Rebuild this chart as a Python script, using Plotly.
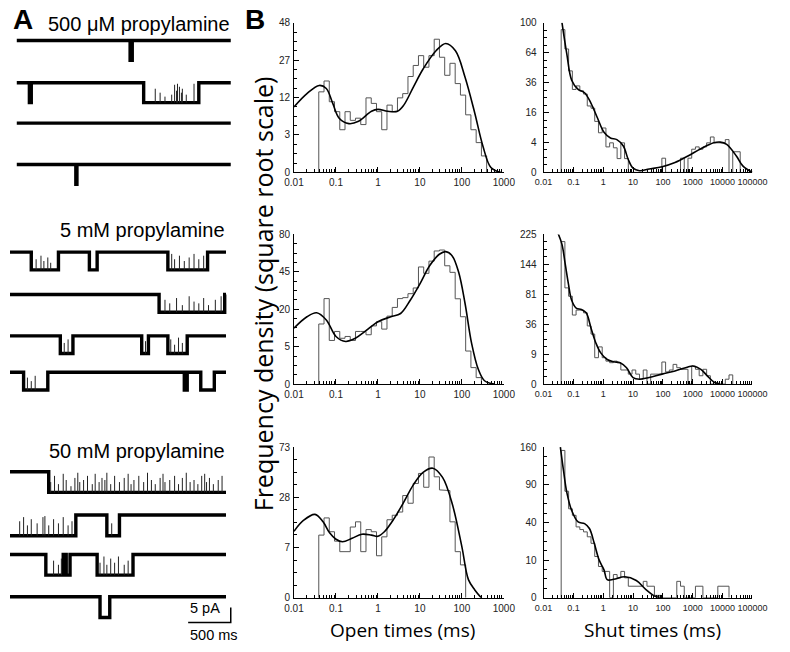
import numpy as np
import plotly.graph_objects as go

W, H = 790, 652

# ---------------- Panel A data (time in ms, current in pA) ----------------
CONDITION_LABELS = ["500 μM propylamine", "5 mM propylamine", "50 mM propylamine"]
SWEEP_START_MS = [0, -80, -80]
SWEEP_END_MS = [2511, 2455, 2455]
OPENING_AMPLITUDE_PA = [6.7, 6.0, 7.0]
SCALE_BAR_MS = 500
SCALE_BAR_PA = 5

OPENINGS_500UM = [
    [(1330, 1355)],
    [(148, 170), (1489, 2136)],
    [],
    [(693, 706)],
]
CLOSURES_500UM = [
    [],
    [(1625, .7), (1682, .5), (1739, .3), (1818, .4), (1852, .9), (1875, .6), (1886, .95),
     (1909, .8), (1932, .5), (1943, .7), (1989, .4), (2080, .95)],
    [],
    [],
]
OPENINGS_5MM = [
    [(170, 489), (852, 943), (1773, 2239)],
    [(1670, 2440)],
    [(511, 659), (1466, 1545), (1773, 2000)],
    [(80, 364), (1966, 2000), (2159, 2318)],
]
CLOSURES_5MM = [
    [(227, .6), (284, .8), (318, .5), (364, .7), (398, .4), (1818, .9), (1852, .6), (1909, .8),
     (1966, .5), (2023, .7), (2080, .9), (2136, .6), (2193, .8)],
    [(1739, .7), (1795, .5), (1875, .8), (1943, .4), (2023, .9), (2080, .6), (2136, .5),
     (2193, .8), (2250, .4), (2330, .7), (2398, .9)],
    [(557, .6), (602, .8), (1511, .7), (1807, .8), (1852, .5), (1898, .9), (1943, .6)],
    [(125, .7), (170, .5), (216, .8)],
]
OPENINGS_50MM = [
    [(375, 2455)],
    [(-80, 693), (1057, 1205)],
    [(341, 545), (580, 625), (943, 1364)],
    [(977, 1091)],
]
CLOSURES_50MM = [
    [(398, .5), (443, .8), (489, .4), (545, .9), (580, .6), (636, .3), (682, .7), (716, .95),
     (739, .5), (784, .6), (830, .8), (886, .4), (920, .9), (966, .5), (1000, .7), (1034, .6),
     (1057, .95), (1102, .4), (1148, .8), (1205, .5), (1261, .7), (1307, .9), (1341, .4),
     (1375, .6), (1432, .8), (1489, .5), (1534, .95), (1580, .6), (1625, .4), (1682, .7),
     (1716, .9), (1739, .5), (1795, .6), (1852, .8), (1898, .4), (1943, .7), (1989, .95),
     (2034, .5), (2080, .6), (2125, .4), (2170, .8), (2205, .9), (2227, .5), (2261, .7),
     (2307, .4), (2364, .6), (2409, .8)],
    [(34, .7), (80, .9), (125, .5), (170, .8), (239, .6), (307, .9), (330, .95), (375, .5),
     (432, .8), (489, .6), (545, .9), (602, .5), (648, .7), (1114, .6)],
    [(432, .7), (489, .5), (523, .8), (977, .6), (1023, .9), (1057, .5), (1102, .8), (1148, .6),
     (1193, .9), (1261, .5), (1307, .7)],
    [],
]

# ---------------- Panel B data ----------------
BIN_LOG_START = -1.41      # log10(ms) of first bin edge
BINS_PER_DECADE = 8

OPEN_HIST_500UM = [13.9, 17.9, 10.7, 7.9, 3.9, 7.9, 5.8, 6.3, 4.9, 11.9, 10.2, 7.9, 3.9, 9.7, 7.9,
                   11.9, 13.3, 19.7, 24.5, 29.2, 23.7, 29.2, 38.0, 28.4, 20.2, 25.5, 16.9, 12.8,
                   7.1, 3.9, 1.9, 0.58]
SHUT_HIST_500UM = [91, 68, 46, 30.7, 33.4, 29.7, 27.4, 19.7, 18.4, 11.6, 7.0, 8.8, 2.9, 3.9, 2.7,
                   0.85, 3.9, 0.85, 0, 0, 0, 0, 0, 0, 0, 0, 0, 0.9, 0, 0, 0, 0, 0.9, 0, 0.9,
                   2.4, 2.9, 2.4, 2.9, 3.9, 5.6, 3.9, 3.9, 3.9, 4.8, 0, 1.9, 1.9]
OPEN_HIST_5MM = [12.9, 26.1, 6.8, 9.9, 7.5, 8.1, 6.8, 9.9, 9.9, 8.7, 12.1, 13.9, 10.8, 16.5, 21,
                 26.1, 26.7, 29.2, 33, 49, 43.8, 54, 63.3, 64.2, 50, 44.6, 26, 16.2, 3.9, 0.97,
                 0.15]
SHUT_HIST_5MM = [204, 93, 77.5, 47.9, 55, 55, 51, 34, 25.1, 7, 13.9, 7, 5.3, 4.6, 5.3, 4.6, 2, 2,
                 1, 2, 1, 0.24, 2, 0, 1, 1, 1, 4.9, 1.5, 2, 3.9, 2.7, 2.2, 2.2, 0, 3.3, 2.2, 0.7,
                 2.2, 0.7, 0, 0, 0, 0, 0.24, 0.85]
OPEN_HIST_50MM = [10.9, 17.7, 12.1, 8.9, 5.9, 5.9, 13.9, 16, 5.9, 12.9, 12.1, 4.9, 10.3, 16.9,
                  18.9, 20.4, 29, 24.8, 36.3, 42.9, 33.9, 55, 40.6, 32.3, 31.9, 16, 5.9, 3.0]
SHUT_HIST_50MM = [153, 80, 55.8, 47.9, 35.4, 32.8, 30.6, 26.2, 20.9, 12, 6.9, 4.9, 4.9, 0, 3.8,
                  2.8, 4.9, 2.8, 0.94, 0.94, 0.94, 0.94, 1.9, 0.94, 0.94, 0.04, 0.04, 0, 0, 0, 0,
                  1.9, 0.94, 0, 0, 0, 0.94, 0.94, 0, 0, 0, 0, 0.94, 0.94, 0.94]

OPEN_FIT_500UM_X = [0.01, 0.0203, 0.0398, 0.0588, 0.0838, 0.119, 0.203, 0.345, 0.702, 1.0, 1.70,
                    2.90, 4.12, 7.02, 11.9, 24.2, 41.3, 70.2, 119, 203, 316, 492, 838]
OPEN_FIT_500UM_Y = [9.2, 13.3, 16.2, 15.1, 10.2, 6.3, 5.1, 5.6, 8.0, 8.5, 8.0, 8.0, 9.7, 15.7,
                    22.9, 31.7, 35.6, 31.7, 19.4, 7.5, 1.5, 0.05, 0]
SHUT_FIT_500UM_X = [0.0414, 0.0601, 0.0875, 0.144, 0.237, 0.390, 0.641, 1.06, 1.74, 2.86, 4.71,
                    6.84, 9.95, 16.4, 34.6, 93.7, 254, 689, 1866, 5050, 8310, 13700, 28900,
                    47500, 100000]
SHUT_FIT_500UM_Y = [100, 62.6, 37.9, 30.7, 28.3, 21.3, 13.2, 7.2, 5.3, 4.8, 3.1, 0.77, 0.08,
                    0.012, 0.05, 0.14, 0.43, 1.2, 2.5, 3.9, 4.1, 3.5, 1.2, 0.19, 0]
OPEN_FIT_5MM_X = [0.01, 0.0203, 0.0346, 0.0588, 0.1, 0.170, 0.290, 0.492, 1.0, 2.03, 3.46, 5.88,
                  10.0, 17.0, 29.0, 41.3, 58.8, 83.8, 119, 170, 246, 346, 589]
OPEN_FIT_5MM_Y = [11.2, 16.2, 18.2, 14.7, 8.1, 6.5, 7.5, 9.9, 13.9, 16.2, 17.8, 25.1, 35.9, 50,
                  60.2, 62.7, 58.7, 44.6, 23.2, 6.0, 0.78, 0.04, 0]
SHUT_FIT_5MM_X = [0.0307, 0.0414, 0.0531, 0.0681, 0.0875, 0.127, 0.185, 0.268, 0.390, 0.567,
                  0.824, 1.36, 2.23, 3.67, 6.04, 9.95, 16.4, 34.6, 93.7, 254, 689, 1000, 1866,
                  3070, 5050, 8310]
SHUT_FIT_5MM_Y = [228, 196, 145, 101, 70.7, 57.6, 56, 51, 31.4, 17, 9.8, 6.1, 5.0, 4.6, 2.7,
                  0.43, 0.24, 0.43, 1.0, 1.74, 2.94, 3.3, 2.2, 0.68, 0.05, 0]
OPEN_FIT_50MM_X = [0.01, 0.0170, 0.0316, 0.0492, 0.0703, 0.1, 0.143, 0.242, 0.412, 0.702, 1.0,
                   1.42, 2.42, 4.12, 7.02, 11.9, 20.3, 34.6, 58.8, 100, 143, 203, 289]
OPEN_FIT_50MM_Y = [12.3, 16.7, 19.3, 16, 11.7, 9.5, 8.7, 9.8, 11.2, 10.9, 10.5, 12.1, 17.4, 25.4,
                   35.5, 43.6, 46.6, 40.2, 24.5, 7.2, 0.91, 0.17, 0]
SHUT_FIT_50MM_X = [0.0366, 0.0469, 0.0601, 0.0875, 0.144, 0.237, 0.344, 0.500, 0.726, 1.06,
                   1.36, 2.23, 5.33, 12.8, 27.0, 56.9, 93.7]
SHUT_FIT_50MM_Y = [160, 113, 78.4, 53.8, 40.5, 38.8, 33.8, 20.9, 10.1, 5.5, 2.3, 2.4, 3.1, 2.1,
                   0.48, 0.01, 0]

OPEN_YTICK_VALUES = [[0, 3, 12, 27, 48], [0, 5, 20, 45, 80], [0, 7, 28, 63]]
OPEN_YTICK_LABELS = [["0", "3", "12", "27", "48"], ["0", "5", "20", "45", "80"],
                     ["0", "7", "28", "73"]]
SHUT_YTICK_VALUES = [[0, 4, 16, 36, 64, 100], [0, 9, 36, 81, 144, 225], [0, 10, 40, 90, 160]]
SHUT_YTICK_LABELS = [[str(v) for v in t] for t in SHUT_YTICK_VALUES]
OPEN_XTICK_LABELS = ["0.01", "0.1", "1", "10", "100", "1000"]
SHUT_XTICK_LABELS = ["0.01", "0.1", "1", "10", "100", "1000", "10000", "100000"]

# ---------------- Layout helpers (pixel geometry) ----------------
def dx(a, b):
    return [a / W, b / W]


def dy(top, bottom):
    return [1 - bottom / H, 1 - top / H]


LEFT_X = (293.3, 510.0)
RIGHT_X = (551.0, 766.7)
ROW_Y = [(18, 170), (233, 385), (449, 602)]
ROW_BASE_PX = [[36, 79, 120, 162], [251, 294, 336, 373], [474, 518, 558, 601]]
PX_PER_MS = 0.088
T0_PX = 7.0

fig = go.Figure()

# ---------------- Panel B histograms ----------------
panels = [
    (OPEN_HIST_500UM, OPEN_FIT_500UM_X, OPEN_FIT_500UM_Y, "open", 0),
    (SHUT_HIST_500UM, SHUT_FIT_500UM_X, SHUT_FIT_500UM_Y, "shut", 0),
    (OPEN_HIST_5MM, OPEN_FIT_5MM_X, OPEN_FIT_5MM_Y, "open", 1),
    (SHUT_HIST_5MM, SHUT_FIT_5MM_X, SHUT_FIT_5MM_Y, "shut", 1),
    (OPEN_HIST_50MM, OPEN_FIT_50MM_X, OPEN_FIT_50MM_Y, "open", 2),
    (SHUT_HIST_50MM, SHUT_FIT_50MM_X, SHUT_FIT_50MM_Y, "shut", 2),
]

layout_axes = {}
for i, (hist, fx, fy, kind, row) in enumerate(panels, start=1):
    xa, ya = f"x{i}", f"y{i}"
    edges = 10 ** (BIN_LOG_START + np.arange(len(hist) + 1) / BINS_PER_DECADE)
    hx, hy = [edges[0]], [0.0]
    for k, h in enumerate(hist):
        hx += [edges[k], edges[k + 1]]
        hy += [np.sqrt(h), np.sqrt(h)]
    hx.append(edges[-1]); hy.append(0.0)
    fig.add_trace(go.Scatter(x=hx, y=hy, mode="lines", xaxis=xa, yaxis=ya,
                             line=dict(color="#555555", width=1), hoverinfo="skip"))
    fig.add_trace(go.Scatter(x=fx, y=np.sqrt(fy), mode="lines", xaxis=xa, yaxis=ya,
                             line=dict(color="black", width=1.6, shape="spline", smoothing=1.0),
                             hoverinfo="skip"))

    if kind == "open":
        xdom, xmaxlog, xlabels = LEFT_X, 3, OPEN_XTICK_LABELS
        yvals, ylabels = OPEN_YTICK_VALUES[row], OPEN_YTICK_LABELS[row]
        xfont = dict(family="Liberation Sans, Arial", size=10, color="#222")
        ystandoff = 1
    else:
        xdom, xmaxlog, xlabels = RIGHT_X, 5, SHUT_XTICK_LABELS
        yvals, ylabels = SHUT_YTICK_VALUES[row], SHUT_YTICK_LABELS[row]
        xfont = dict(family="Liberation Sans, Arial", size=9, color="#222")
        ystandoff = 4
    yfont = dict(family="Liberation Sans, Arial", size=10, color="#222")
    decades = [10.0 ** p for p in range(-2, xmaxlog + 1)]
    minor_x = [m * d for d in decades[:-1] for m in range(2, 10)]
    ysq = np.sqrt(yvals)
    step = ysq[1] - ysq[0]
    minor_y = [v for v in np.arange(0, ysq[-1] + 1e-9, step / 4) if
               min(abs(v - s) for s in ysq) > 1e-6]
    suffix = "" if i == 1 else str(i)
    layout_axes["xaxis" + suffix] = dict(
        type="log", range=[-2, xmaxlog], domain=dx(*xdom), anchor=ya,
        showline=True, linecolor="black", linewidth=1, showgrid=False, zeroline=False,
        ticks="inside", ticklen=5, tickwidth=1, tickcolor="black", tickangle=0,
        tickmode="array", tickvals=decades, ticktext=xlabels, tickfont=xfont,
        ticklabelstandoff=1,
        minor=dict(tickmode="array", tickvals=minor_x, ticks="inside", ticklen=3,
                   tickwidth=1, tickcolor="black", showgrid=False),
    )
    layout_axes["yaxis" + suffix] = dict(
        range=[0, ysq[-1]], domain=dy(*ROW_Y[row]), anchor=xa,
        showline=True, linecolor="black", linewidth=1, showgrid=False, zeroline=False,
        ticks="inside", ticklen=5, tickwidth=1, tickcolor="black",
        tickmode="array", tickvals=list(ysq), ticktext=ylabels, tickfont=yfont,
        ticklabelstandoff=ystandoff,
        minor=dict(tickmode="array", tickvals=minor_y, ticks="inside", ticklen=3,
                   tickwidth=1, tickcolor="black", showgrid=False),
    )

# ---------------- Panel A traces ----------------
def sweep_path(start, end, openings, base, amp):
    lo = base - amp
    xs, ys = [], []
    starts_open = bool(openings) and openings[0][0] <= start
    xs.append(start); ys.append(lo if starts_open else base)
    for s, e in openings:
        s2, e2 = max(s, start), min(e, end)
        if s2 > start:
            xs += [s2, s2]; ys += [base, lo]
        if e2 < end:
            xs += [e2, e2]; ys += [lo, base]
        else:
            xs.append(e2); ys.append(lo)
    if xs[-1] < end:
        xs.append(end); ys.append(base)
    return xs, ys


blocks = [(OPENINGS_500UM, CLOSURES_500UM), (OPENINGS_5MM, CLOSURES_5MM),
          (OPENINGS_50MM, CLOSURES_50MM)]
for b, (opens, closes) in enumerate(blocks):
    amp = OPENING_AMPLITUDE_PA[b]
    for r in range(4):
        base = -ROW_BASE_PX[b][r] / 3.0
        xs, ys = sweep_path(SWEEP_START_MS[b], SWEEP_END_MS[b], opens[r], base, amp)
        fig.add_trace(go.Scatter(x=xs, y=ys, mode="lines", xaxis="x7", yaxis="y7",
                                 line=dict(color="black", width=3.4), hoverinfo="skip"))
        sx, sy = [], []
        for t, f in closes[r]:
            sx += [t, t, None]
            sy += [base - amp, base - amp + f * amp, None]
        if sx:
            fig.add_trace(go.Scatter(x=sx, y=sy, mode="lines", xaxis="x7", yaxis="y7",
                                     line=dict(color="#222", width=1), hoverinfo="skip"))

# scale bar
bar_end = SWEEP_END_MS[0]
bar_y = -627 / 3.0
fig.add_trace(go.Scatter(
    x=[bar_end - SCALE_BAR_MS, bar_end, bar_end],
    y=[bar_y, bar_y, bar_y + SCALE_BAR_PA], mode="lines", xaxis="x7", yaxis="y7",
    line=dict(color="black", width=1.5), hoverinfo="skip"))

layout_axes["xaxis7"] = dict(domain=dx(0, 240), range=[(0 - T0_PX) / PX_PER_MS,
                                                        (240 - T0_PX) / PX_PER_MS],
                             visible=False, anchor="y7")
layout_axes["yaxis7"] = dict(domain=[0, 1], range=[-H / 3.0, 0], visible=False, anchor="x7")

# ---------------- Annotations ----------------
def ann(text, x, y, size, family="Liberation Sans, Arial", xanchor="center", angle=0, bold=False):
    return dict(text=f"<b>{text}</b>" if bold else text, x=x / W, y=1 - y / H,
                xref="paper", yref="paper", showarrow=False, xanchor=xanchor,
                yanchor="middle", textangle=angle,
                font=dict(family=family, size=size, color="black"))


annotations = [
    ann("A", 13, 15, 28, bold=True),
    ann("B", 253, 15, 28, bold=True),
    ann(CONDITION_LABELS[0], 229, 19, 20, xanchor="right"),
    ann(CONDITION_LABELS[1], 224, 229, 20, xanchor="right"),
    ann(CONDITION_LABELS[2], 224, 453, 20, xanchor="right"),
    ann("5 pA", 184, 612, 14.5, xanchor="left"),
    ann("500 ms", 184, 640, 14.5, xanchor="left"),
    ann("Frequency density (square root scale)", 261, 293, 25, family="Open Sans", angle=-90),
    ann("Open times (ms)", 405, 635, 19, family="Open Sans"),
    ann("Shut times (ms)", 664, 635, 19, family="Open Sans"),
]

fig.update_layout(
    width=W, height=H, margin=dict(l=0, r=0, t=0, b=0),
    paper_bgcolor="white", plot_bgcolor="rgba(0,0,0,0)", showlegend=False,
    annotations=annotations, **layout_axes,
)

fig.write_html("out.html", config={"displayModeBar": False},
               post_script="document.body.style.margin='0';"
                           "document.documentElement.style.overflow='hidden';")
